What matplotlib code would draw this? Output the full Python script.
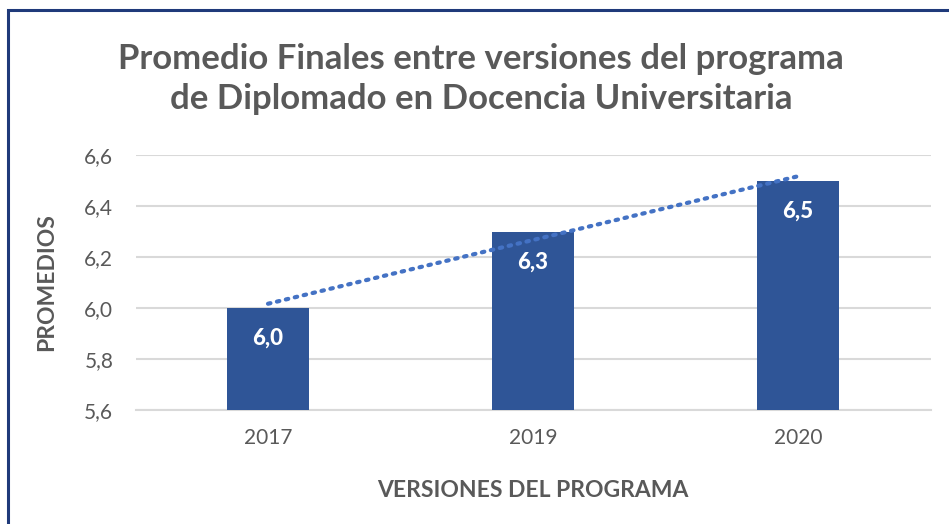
import matplotlib
matplotlib.use("Agg")
import matplotlib.pyplot as plt
import numpy as np
from matplotlib.patches import Rectangle

categories = ["2017", "2019", "2020"]
values = [6.0, 6.3, 6.5]
value_labels = ["6,0", "6,3", "6,5"]
yticks = [5.6, 5.8, 6.0, 6.2, 6.4, 6.6]
ytick_labels = ["5,6", "5,8", "6,0", "6,2", "6,4", "6,6"]
title = "Promedio Finales entre versiones del programa\nde Diplomado en Docencia Universitaria"
xlabel = "VERSIONES DEL PROGRAMA"
ylabel = "PROMEDIOS"

FONT = ["Lato", "DejaVu Sans"]
plt.rcParams['font.family'] = FONT

W, H = 949, 524
fig = plt.figure(figsize=(W / 100, H / 100), dpi=100)
fig.patch.set_facecolor("white")

# figure border (left & top visible)
fig.add_artist(Rectangle((8 / W, -0.05), 1.2, (H - 10) / H + 0.05, transform=fig.transFigure,
                         fill=False, edgecolor="#1F3A7A", linewidth=2.2))

ax = fig.add_axes([135.5 / W, 1 - 410 / H, (930.5 - 135.5) / W, (410 - 155) / H])
x = np.arange(len(categories))
ax.bar(x, values, width=0.31, color="#2F5597", zorder=3, bottom=0)
ax.set_xlim(-0.5, len(categories) - 0.5)
ax.set_ylim(5.6, 6.6)
ax.set_yticks(yticks)
ax.set_yticklabels(ytick_labels)
ax.set_xticks(x)
ax.set_xticklabels(categories)
ax.tick_params(axis="both", length=0, labelsize=15, colors="#595959")
ax.tick_params(axis="y", pad=16)
ax.tick_params(axis="x", pad=13)
for s in ["top", "right", "left"]:
    ax.spines[s].set_visible(False)
ax.spines["bottom"].set_color("#D9D9D9")
ax.spines["bottom"].set_linewidth(1.5)
ax.grid(axis="y", color="#D9D9D9", linewidth=1.5, zorder=0)
ax.set_axisbelow(True)

# linear trendline
coef = np.polyfit(x, values, 1)
tx = np.array([x[0], x[-1]])
ax.plot(tx, np.polyval(coef, tx), linestyle=(0, (0.6, 1.6)), color="#4472C4",
        linewidth=3, dash_capstyle="round", zorder=4)

for xi, v, lab in zip(x, values, value_labels):
    ax.annotate(lab, (xi, v), xytext=(0, -22), textcoords="offset points", ha="center",
                va="center", color="white", fontsize=16, fontweight="black", zorder=5)

ax.set_xlabel(xlabel, fontsize=16.5, fontweight="bold", color="#595959")
ax.xaxis.set_label_coords(0.5, -0.275)
ax.set_ylabel(ylabel, fontsize=16.5, fontweight="bold", color="#595959", va="center")
ax.yaxis.set_label_coords(-0.112, 0.5)

fig.text(481 / W, 1 - 79 / H, title, ha="center", va="center", fontsize=25,
         fontweight="bold", color="#595959", linespacing=1.3)

fig.savefig("out.png", dpi=100, facecolor="white")
